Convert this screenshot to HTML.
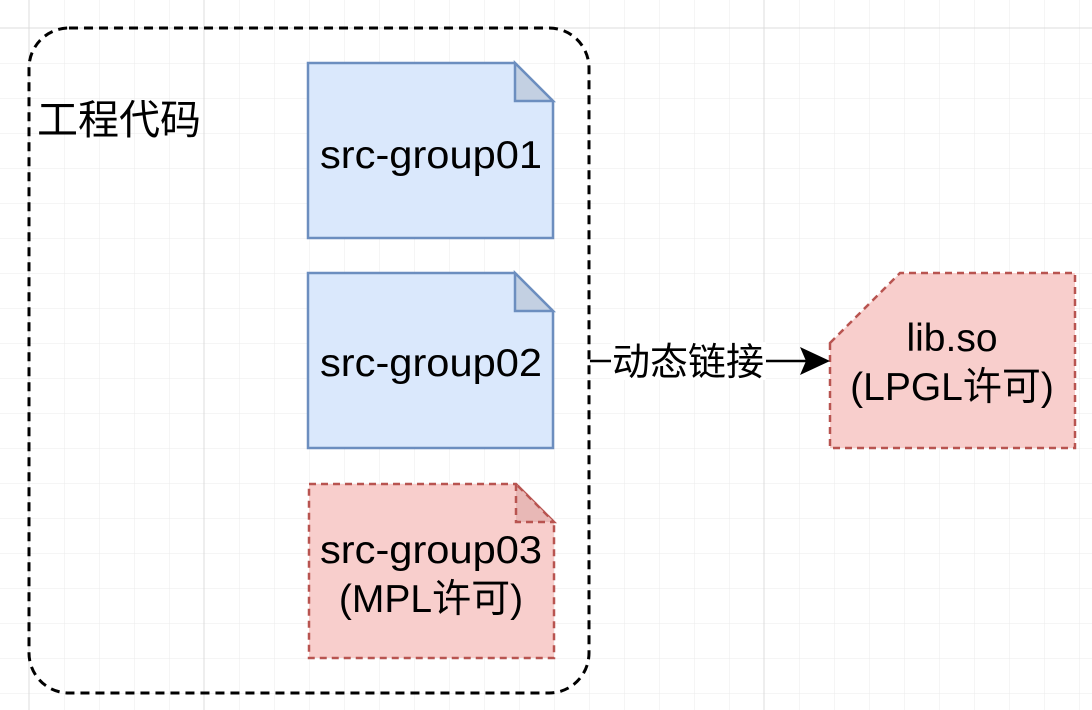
<!DOCTYPE html>
<html><head><meta charset="utf-8"><style>
html,body{margin:0;padding:0;background:#fff}
svg{display:block}
text{font-family:"Liberation Sans","Noto Sans CJK SC",sans-serif;fill:#000}
</style></head><body>
<svg width="1092" height="710" viewBox="0 0 1092 710" xmlns="http://www.w3.org/2000/svg">
<defs>
<pattern id="g" x="29" y="28" width="35" height="35" patternUnits="userSpaceOnUse">
<path d="M0 0H35M0 0V35" stroke="#ebebeb" stroke-width="1" fill="none"/>
</pattern>
</defs>
<rect width="1092" height="710" fill="url(#g)"/>
<g stroke="#dcdcdc" stroke-width="1">
<line x1="29" y1="0" x2="29" y2="710"/><line x1="204" y1="0" x2="204" y2="710"/><line x1="764" y1="0" x2="764" y2="710"/>
<line x1="0" y1="28" x2="1092" y2="28"/>
</g>
<rect x="29" y="28" width="560" height="665" rx="40" ry="40" fill="none" stroke="#000" stroke-width="3" stroke-dasharray="9 6"/>
<text x="37" y="134" font-size="41">工程代码</text>

<g stroke="#6c8ebf" stroke-width="2.5">
<path d="M308 63H515L553 101V238H308Z" fill="#dae8fc"/>
<path d="M515 63V101H553Z" fill="#c3d0e2"/>
<path d="M308 273H515L553 311V448H308Z" fill="#dae8fc"/>
<path d="M515 273V311H553Z" fill="#c3d0e2"/>
</g>
<text x="431" y="168" font-size="39" text-anchor="middle" textLength="222" lengthAdjust="spacingAndGlyphs">src-group01</text>
<text x="431" y="376" font-size="39" text-anchor="middle" textLength="222" lengthAdjust="spacingAndGlyphs">src-group02</text>

<g stroke="#b85450" stroke-width="2.5" stroke-dasharray="7 5">
<path d="M309 484H516L554 522V658H309Z" fill="#f8cecc"/>
<path d="M516 484V522H554Z" fill="#e8b8b6"/>
<path d="M830 343L900 273H1075V448H830Z" fill="#f8cecc"/>
</g>
<text x="431" y="563" font-size="39" text-anchor="middle" textLength="222" lengthAdjust="spacingAndGlyphs">src-group03</text>
<text x="431" y="612" font-size="39" text-anchor="middle">(MPL许可)</text>
<text x="952" y="351" font-size="39" text-anchor="middle">lib.so</text>
<text x="952" y="400" font-size="39" text-anchor="middle">(LPGL许可)</text>

<line x1="590" y1="361" x2="815" y2="361" stroke="#000" stroke-width="2.5"/>
<path d="M830 361L800 347L806 361L800 375Z" fill="#000"/>
<rect x="611" y="342" width="155" height="38" fill="#fff"/>
<text x="688" y="375" font-size="38" text-anchor="middle">动态链接</text>
</svg>
</body></html>
